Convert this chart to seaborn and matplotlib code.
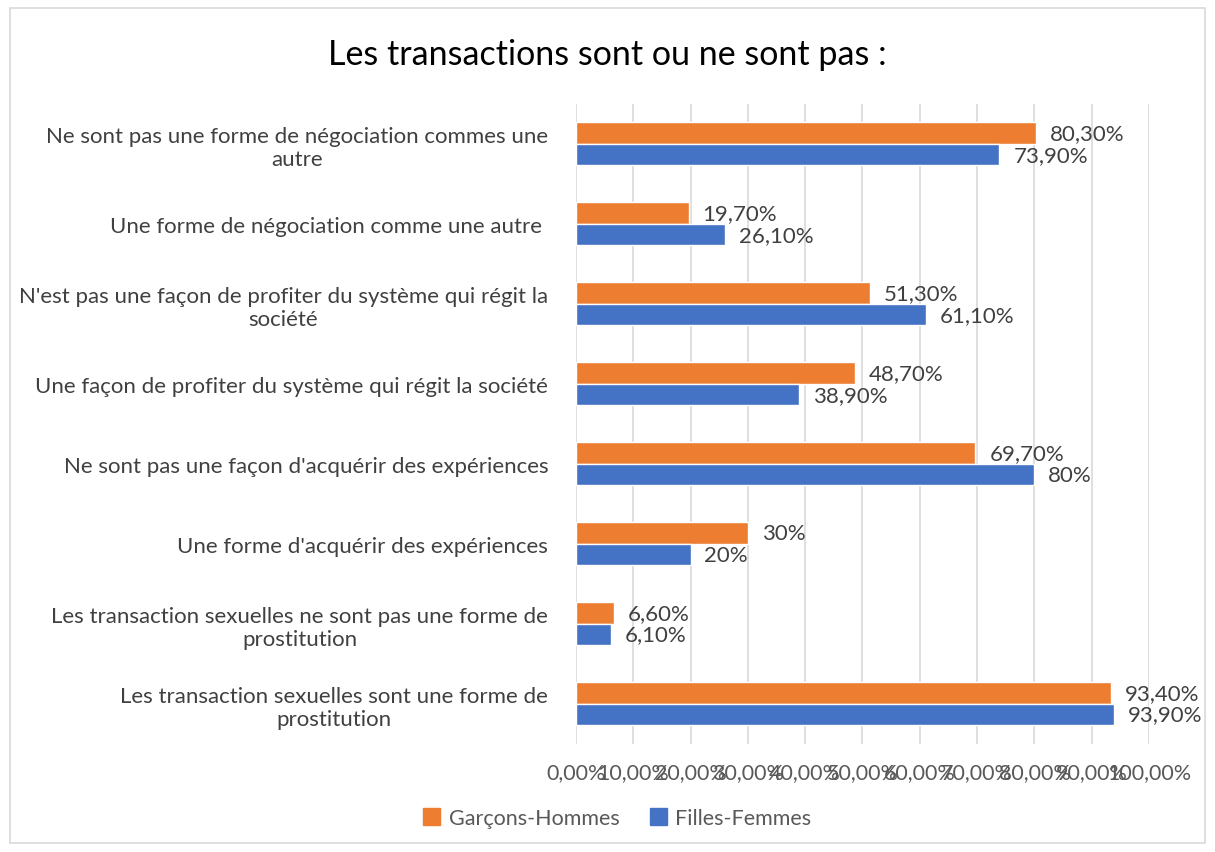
import pandas as pd
import seaborn as sns
import matplotlib.pyplot as plt
from matplotlib.patches import Rectangle
from matplotlib.ticker import FuncFormatter

# -------------------------------
# Data
# -------------------------------
categories = [
    "Ne sont pas une forme de négociation commes une\nautre",
    "Une forme de négociation comme une autre ",
    "N'est pas une façon de profiter du système qui régit la\nsociété",
    "Une façon de profiter du système qui régit la société",
    "Ne sont pas une façon d'acquérir des expériences",
    "Une forme d'acquérir des expériences",
    "Les transaction sexuelles ne sont pas une forme de\nprostitution",
    "Les transaction sexuelles sont une forme de\nprostitution",
]
garcons = [80.3, 19.7, 51.3, 48.7, 69.7, 30.0, 6.6, 93.4]
filles = [73.9, 26.1, 61.1, 38.9, 80.0, 20.0, 6.1, 93.9]
garcons_labels = ["80,30%", "19,70%", "51,30%", "48,70%", "69,70%", "30%", "6,60%", "93,40%"]
filles_labels = ["73,90%", "26,10%", "61,10%", "38,90%", "80%", "20%", "6,10%", "93,90%"]
series = ["Garçons-Hommes", "Filles-Femmes"]
colors = ["#ED7D31", "#4472C4"]

df = pd.DataFrame({
    "categorie": categories * 2,
    "valeur": garcons + filles,
    "groupe": [series[0]] * len(categories) + [series[1]] * len(categories),
})

sns.set_style("white")
plt.rcParams["font.family"] = ["Lato", "DejaVu Sans"]

fig = plt.figure(figsize=(12.15, 8.53), dpi=100)
ax = fig.add_axes([0.474, 0.127, 0.4717, 0.75])

sns.barplot(data=df, y="categorie", x="valeur", hue="groupe",
            hue_order=series, palette=colors, order=categories,
            width=0.54, ax=ax, legend=False, saturation=1)

# value labels
for container, labels in zip(ax.containers, [garcons_labels, filles_labels]):
    ax.bar_label(container, labels=labels, padding=10, fontsize=16,
                 color="#404040")

ax.set_xlim(0, 100)
ax.set_xticks(range(0, 101, 10))
ax.xaxis.set_major_formatter(FuncFormatter(lambda v, p: f"{v:.2f}".replace(".", ",") + "%"))
ax.tick_params(axis="x", labelsize=15.5, colors="#595959", length=0, pad=13)
ax.tick_params(axis="y", labelsize=16, colors="#404040", length=0, pad=20)
ax.grid(axis="x", color="#D9D9D9", linewidth=1.2)
ax.set_axisbelow(True)
for s in ax.spines.values():
    s.set_visible(False)
ax.set_xlabel("")
ax.set_ylabel("")
for lab in ax.get_yticklabels():
    lab.set_horizontalalignment("right")
    lab.set_multialignment("center")

fig.text(0.5, 0.935, "Les transactions sont ou ne sont pas :", ha="center",
         va="center", fontsize=24.5, color="#000000")

handles = [Rectangle((0, 0), 1, 1, color=c) for c in colors]
fig.legend(handles, series, loc="center", bbox_to_anchor=(0.508, 0.04), ncol=2,
           frameon=False, fontsize=15.5, handlelength=0.8, handleheight=0.8,
           columnspacing=1.4, handletextpad=0.4, labelcolor="#595959")

# outer border like the chart frame
fig.patches.append(Rectangle((0.008, 0.01), 0.984, 0.98, transform=fig.transFigure,
                             fill=False, edgecolor="#D9D9D9", linewidth=1.2))

plt.savefig("out.png", dpi=100)
